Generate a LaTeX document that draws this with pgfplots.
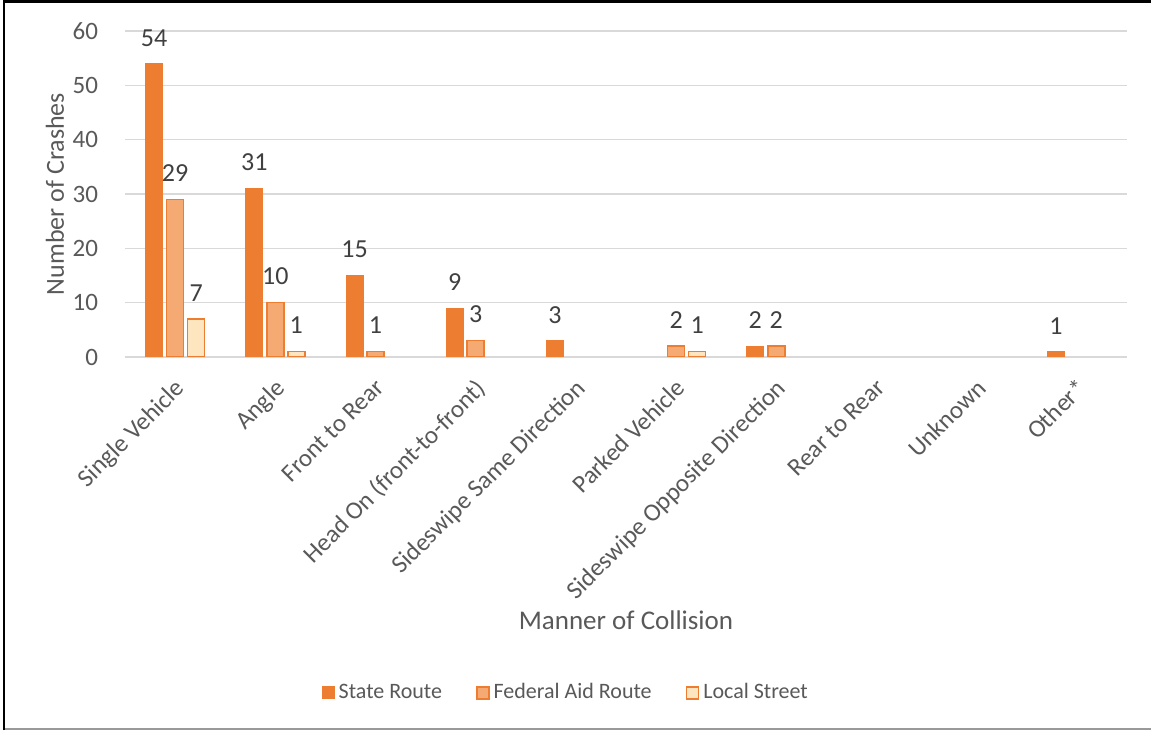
\documentclass[border=0pt]{standalone}
\usepackage{fontspec}
\setmainfont{Carlito}
\usepackage{pgfplots}
\pgfplotsset{compat=1.18}
\definecolor{srO}{HTML}{ED7D31}
\definecolor{faO}{HTML}{F4AA72}
\definecolor{lsO}{HTML}{FCE5BF}
\definecolor{txt}{HTML}{595959}
\definecolor{lab}{HTML}{404040}
\definecolor{grd}{HTML}{D9D9D9}
\begin{document}
\begin{tikzpicture}
\path[use as bounding box] (0,0) rectangle (575.5pt,365.5pt);
\draw[black, line width=1.2pt] (2pt,0.5pt) -- (2pt,364.8pt) -- (575.5pt,364.8pt);
\draw[black!40, line width=1pt] (2.5pt,0.75pt) -- (575.5pt,0.75pt);
\begin{axis}[
  at={(62.5pt,187pt)}, anchor=south west,
  scale only axis, width=501pt, height=163pt,
  xmin=-0.5, xmax=9.5, ymin=0, ymax=60,
  /pgf/number format/assume math mode=true,
  ybar=2pt, bar width=8.5pt,
  axis line style={draw=none},
  ymajorgrids, grid style={grd, line width=0.8pt},
  major tick length=0pt,
  ytick={0,10,...,60},
  xtick={0,...,9},
  xticklabels={Single Vehicle, Angle, Front to Rear, Head On (front-to-front), Sideswipe Same Direction, Parked Vehicle, Sideswipe Opposite Direction, Rear to Rear, Unknown, Other*},
  xticklabel style={xshift=-0.8pt, yshift=-8.6pt, rotate=45, anchor=north east, font=\fontsize{12.5}{14}\selectfont, text=txt, inner sep=1pt},
  yticklabel style={anchor=east, font=\fontsize{12.5}{14}\selectfont, text=txt, xshift=-10pt},
  xlabel={Manner of Collision},
  ylabel={Number of Crashes},
  xlabel style={at={(axis description cs:0.5,-0.807)}, anchor=center, font=\fontsize{13.5}{15}\selectfont, text=txt},
  ylabel style={at={(axis description cs:-0.07,0.5)}, anchor=center, rotate=0, font=\fontsize{13}{15}\selectfont, text=txt},
  nodes near coords,
  nodes near coords style={font=\fontsize{13}{15}\selectfont, text=lab, anchor=south, inner sep=0pt, yshift=8.5pt},
  legend columns=3,
  legend style={at={(axis description cs:0.441,-1.03)}, anchor=center, draw=none, font=\fontsize{11}{14}\selectfont, text=txt,
    /tikz/every even column/.append style={column sep=15pt}},
  legend image code/.code={\draw[#1] (0pt,-3pt) rectangle (6pt,3pt);},
]
\addplot[fill=srO, draw=srO, line width=0.4pt] coordinates {(0,54) (1,31) (2,15) (3,9) (4,3) (6,2) (9,1)};
\addplot[fill=faO, draw=srO, line width=0.8pt] coordinates {(0,29) (1,10) (2,1) (3,3) (5,2) (6,2)};
\addplot[fill=lsO, draw=srO, line width=0.8pt] coordinates {(0,7) (1,1) (5,1)};
\legend{State Route, Federal Aid Route, Local Street}
\end{axis}
\end{tikzpicture}
\end{document}
